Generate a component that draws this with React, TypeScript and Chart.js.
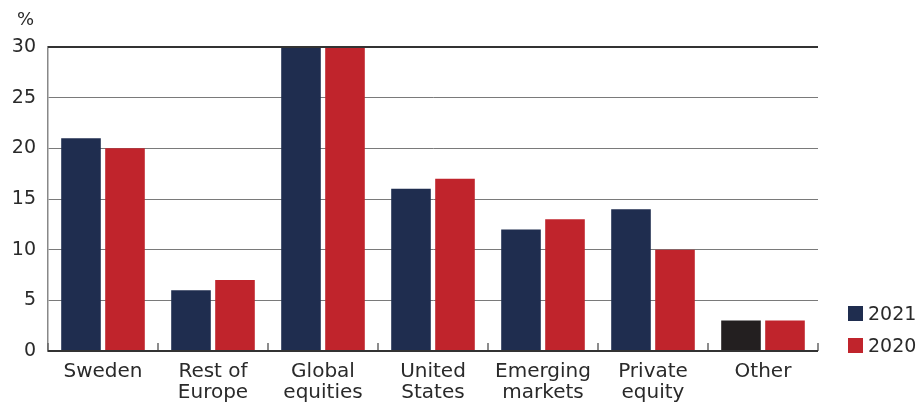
import React, { useEffect, useRef } from "react";
import { Chart, registerables } from "chart.js";

Chart.register(...registerables);

const categories: string[][] = [
  ["Sweden"],
  ["Rest of", "Europe"],
  ["Global", "equities"],
  ["United", "States"],
  ["Emerging", "markets"],
  ["Private", "equity"],
  ["Other"],
];
const values2021: number[] = [21, 6, 30, 16, 12, 14, 3];
const values2020: number[] = [20, 7, 30, 17, 13, 10, 3];
const yTicks: number[] = [0, 5, 10, 15, 20, 25, 30];

const NAVY = "#1f2d4f";
const RED = "#c0242c";
const OTHER2021 = "#231f20";
const FONT = "'DejaVu Sans', sans-serif";

const colors2021 = categories.map((c) => (c[0] === "Other" ? OTHER2021 : NAVY));

const innerTicks = {
  id: "innerTicks",
  afterDatasetsDraw(chart: any) {
    const x = chart.scales.x;
    const area = chart.chartArea;
    const ctx = chart.ctx;
    const n = categories.length;
    const half = (x.getPixelForValue(1) - x.getPixelForValue(0)) / 2;
    ctx.save();
    ctx.strokeStyle = "#666";
    ctx.lineWidth = 1.5;
    for (let i = 0; i <= n; i++) {
      const px = i < n ? x.getPixelForValue(i) - half : x.getPixelForValue(n - 1) + half;
      ctx.beginPath();
      ctx.moveTo(px, area.bottom);
      ctx.lineTo(px, area.bottom - 8);
      ctx.stroke();
    }
    ctx.strokeStyle = "#333";
    ctx.lineWidth = 2;
    ctx.beginPath();
    ctx.moveTo(area.left, area.bottom);
    ctx.lineTo(area.right, area.bottom);
    ctx.moveTo(area.left, area.top);
    ctx.lineTo(area.right, area.top);
    ctx.stroke();
    ctx.restore();
  },
};

export default function App() {
  const ref = useRef<HTMLCanvasElement>(null);
  useEffect(() => {
    if (!ref.current) return;
    const chart = new Chart(ref.current, {
      type: "bar",
      data: {
        labels: categories,
        datasets: [
          {
            label: "2021",
            data: values2021,
            backgroundColor: colors2021,
            borderColor: colors2021,
            borderWidth: 0,
          },
          {
            label: "2020",
            data: values2020,
            backgroundColor: RED,
            borderWidth: 0,
          },
        ],
      },
      options: {
        animation: false,
        responsive: false,
        maintainAspectRatio: false,
        layout: { padding: { top: 47, right: 104, left: 0, bottom: 0 } },
        datasets: { bar: { categoryPercentage: 0.8, barPercentage: 0.9 } },
        plugins: {
          legend: { display: false },
          tooltip: { enabled: false },
        },
        scales: {
          x: {
            grid: { display: false },
            border: { display: false },
            ticks: {
              color: "#2a2a2a",
              font: { family: FONT, size: 20, lineHeight: 1.05 },
              padding: 2,
              maxRotation: 0,
              autoSkip: false,
            },
            afterFit(scale: any) {
              scale.height = 52;
            },
          },
          y: {
            min: 0,
            max: 30,
            afterBuildTicks(scale: any) {
              scale.ticks = yTicks.map((v) => ({ value: v }));
            },
            grid: { color: "#7a7a7a", lineWidth: 1, drawTicks: false },
            border: { display: true, color: "#888", width: 1.5 },
            ticks: {
              color: "#2a2a2a",
              font: { family: FONT, size: 19 },
              padding: 12,
            },
            afterFit(scale: any) {
              scale.width = 48;
            },
          },
        },
      },
      plugins: [innerTicks],
    });
    return () => chart.destroy();
  }, []);

  const legendItem = (color: string, text: string, top: number) => (
    <div
      style={{
        position: "absolute",
        left: 848,
        top,
        display: "flex",
        alignItems: "center",
        fontFamily: FONT,
        fontSize: 19,
        lineHeight: "22px",
        color: "#2a2a2a",
      }}
    >
      <span style={{ width: 15, height: 15, background: color, display: "inline-block", marginRight: 5 }} />
      {text}
    </div>
  );

  return (
    <div style={{ position: "fixed", left: 0, top: 0, width: 922, height: 403, background: "#fff" }}>
      <canvas ref={ref} width={922} height={403} style={{ width: 922, height: 403, display: "block" }} />
      <div
        style={{
          position: "absolute",
          left: 17,
          top: 8,
          fontFamily: FONT,
          fontSize: 18,
          color: "#2a2a2a",
        }}
      >
        %
      </div>
      {legendItem(NAVY, "2021", 302)}
      {legendItem(RED, "2020", 334)}
    </div>
  );
}
